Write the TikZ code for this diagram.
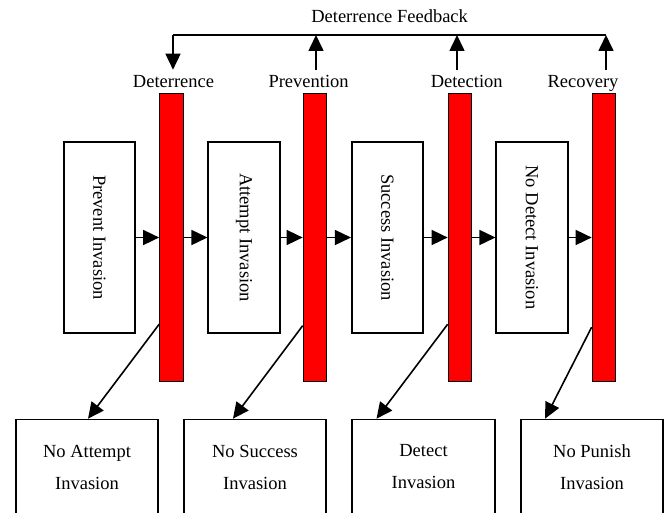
\documentclass[tikz,border=0pt]{standalone}
\usepackage{fontspec}
\setmainfont{Liberation Serif}
\usepackage{graphicx}
\usetikzlibrary{arrows.meta,calc}
\begin{document}
\begin{tikzpicture}[x=1pt,y=-1pt,
  lw/.style={line width=1.6pt},
  arr/.style={lw,-{Triangle[length=16pt,width=15pt]}},
  vbox/.style={draw,lw,minimum width=71.5pt,minimum height=190.5pt,inner sep=0pt,font=\fontsize{18.5}{22}\selectfont},
  redbar/.style={draw,line width=1.2pt,fill=red,minimum width=23.5pt,minimum height=288pt,inner sep=0pt},
  hbox/.style={draw,lw,minimum width=142.5pt,minimum height=95pt,align=center,font=\fontsize{18.5}{32}\selectfont},
  lab/.style={inner sep=0pt,font=\fontsize{18.5}{22}\selectfont,anchor=base}
]
\useasboundingbox (0,0) rectangle (668,513);

% vertical state boxes
\node[vbox] (b1) at (99.5,237.5) {\rotatebox{-90}{Prevent Invasion}};
\node[vbox] (b2) at (244,237.5) {\rotatebox{-90}{Attempt Invasion}};
\node[vbox] (b3) at (387.5,237.5) {\rotatebox{-90}{Success Invasion}};
\node[vbox] (b4) at (532,237.5) {\rotatebox{-90}{No Detect Invasion}};

% red barriers
\node[redbar] (r1) at (171.5,237.5) {};
\node[redbar] (r2) at (315,237.5) {};
\node[redbar] (r3) at (460,237.5) {};
\node[redbar] (r4) at (604,237.5) {};

% outcome boxes
\node[hbox] (n1) at (87,467) {No Attempt\\Invasion};
\node[hbox] (n2) at (255,467) {No Success\\Invasion};
\node[hbox] (n3) at (423.5,467) {Detect\\Invasion};
\node[hbox] (n4) at (592,467) {No Punish\\Invasion};

% labels
\node[lab] (t) at (389.6,23) {Deterrence Feedback};
\node[lab] (l1) at (173.5,88) {Deterrence};
\node[lab] (l2) at (308.6,88) {Prevention};
\node[lab] (l3) at (466.7,88) {Detection};
\node[lab] (l4) at (583,88) {Recovery};

% feedback line
\coordinate (f1) at (173,35);
\coordinate (f2) at (316,35);
\coordinate (f3) at (457,35);
\coordinate (f4) at (606,35);
\draw[lw] (f1) -- (f4);
\draw[arr,shorten >=6pt] (f1) -- (f1 |- l1.north);
\draw[arr,shorten <=6pt] (f2 |- l2.north) -- (f2);
\draw[arr,shorten <=6pt] (f3 |- l3.north) -- (f3);
\draw[arr,shorten <=6pt] (f4 |- l4.north) -- (f4);

% horizontal flow
\draw[arr] (b1.east) -- (r1.west);
\draw[arr] (r1.east) -- (b2.west);
\draw[arr] (b2.east) -- (r2.west);
\draw[arr] (r2.east) -- (b3.west);
\draw[arr] (b3.east) -- (r3.west);
\draw[arr] (r3.east) -- (b4.west);
\draw[arr] (b4.east) -- (r4.west);

% diagonal outcomes
\draw[arr] ($(r1.south west)!0.2!(r1.north west)$) -- ($(n1.north west)!0.507!(n1.north east)$);
\draw[arr] ($(r2.south west)!0.195!(r2.north west)$) -- ($(n2.north west)!0.347!(n2.north east)$);
\draw[arr] ($(r3.south west)!0.2!(r3.north west)$) -- ($(n3.north west)!0.174!(n3.north east)$);
\draw[arr] ($(r4.south west)!0.19!(r4.north west)$) -- ($(n4.north west)!0.174!(n4.north east)$);
\end{tikzpicture}
\end{document}
